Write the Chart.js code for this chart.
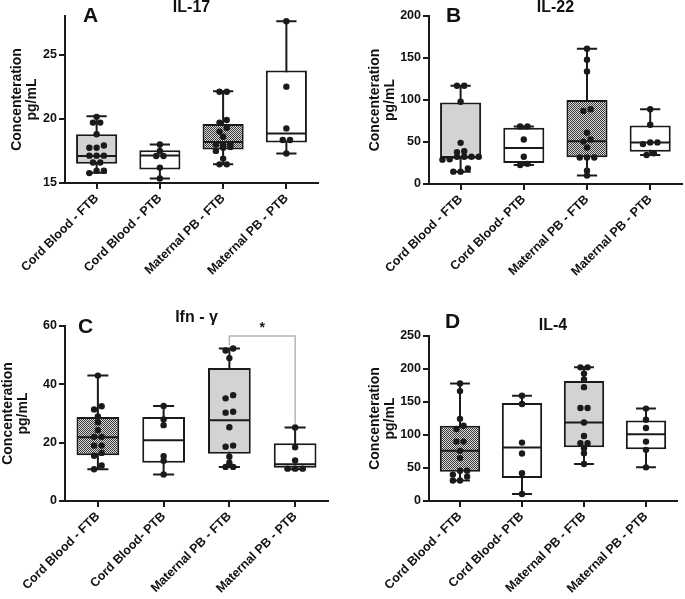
<!DOCTYPE html>
<html><head><meta charset="utf-8">
<script src="https://cdn.jsdelivr.net/npm/chart.js@4.4.1/dist/chart.umd.min.js"></script>
<style>
html,body{margin:0;padding:0;background:#fff;}
body{width:685px;height:599px;position:relative;overflow:hidden;font-family:'Liberation Sans',Arial,sans-serif;}
canvas{position:absolute;}
.lab{position:absolute;font-weight:bold;font-size:21px;line-height:1;color:#111;z-index:2;}
</style></head><body>
<canvas id="cA" width="340" height="300" style="left:0;top:0"></canvas>
<canvas id="cB" width="345" height="300" style="left:340px;top:0"></canvas>
<canvas id="cC" width="340" height="299" style="left:0;top:300px"></canvas>
<canvas id="cD" width="345" height="299" style="left:340px;top:300px"></canvas>
<div class="lab" style="left:83px;top:4px">A</div>
<div class="lab" style="left:446px;top:4px">B</div>
<div class="lab" style="left:78px;top:315px">C</div>
<div class="lab" style="left:445px;top:310px">D</div>
<script>
// ---------------- data ----------------
const categoriesA   = ['Cord Blood - FTB','Cord Blood - PTB','Maternal PB - FTB','Maternal PB - PTB'];
const categoriesBCD = ['Cord Blood - FTB','Cord Blood- PTB','Maternal PB - FTB','Maternal PB - PTB'];
const yTitle = ['Concenteration','pg/mL'];

// IL-17
const il17_min = [15.8, 15.35, 16.45, 17.3];
const il17_q1  = [16.5, 16.05, 17.6, 18.15];
const il17_med = [17.1, 17.15, 18.2, 18.85];
const il17_q3  = [18.8, 17.55, 19.6, 23.75];
const il17_max = [20.2, 18.0, 22.15, 27.6];
const il17_pts = [
  [15.77,15.95,15.95,16.6,16.6,17.13,17.13,17.13,17.74,17.74,17.92,18.8,19.7,19.7,20.15],
  [15.35,16.2,17.1,17.1,17.5,18.0],
  [16.45,16.45,16.9,17.5,17.75,17.8,18.0,18.0,18.0,18.6,19.0,19.3,19.7,19.9,22.1,22.1],
  [17.3,18.35,18.35,19.25,22.5,27.6]
];
const il17_ticks = [15,20,25];
const il17_range = [15,28];

// IL-22
const il22_min = [14.7, 22.5, 10, 34.5];
const il22_q1  = [30, 25, 31.7, 38.5];
const il22_med = [32, 43, 51, 49.5];
const il22_q3  = [97, 67, 100, 69.5];
const il22_max = [117, 68.5, 161, 89];
const il22_pts = [
  [14.7,14.7,18.5,29,29.5,32.5,32.5,32.5,32.5,38,39,49,98,117,117],
  [22.5,24,32.5,53,68.5,68.5],
  [10,15.8,31.5,31.5,31.5,43.5,50.5,53,61,87,89,134,148,161],
  [34.5,36.5,47.5,49.5,49.5,70.5,89]
];
const il22_ticks = [0,50,100,150,200];
const il22_range = [0,200];

// Ifn-gamma
const ifng_min = [10.9, 9.1, 11.7, 10.9];
const ifng_q1  = [15.7, 13.1, 16.2, 11.4];
const ifng_med = [21.9, 20.8, 27.7, 12.6];
const ifng_q3  = [28.8, 28.8, 45.6, 19.8];
const ifng_max = [43, 32.6, 52.3, 25.2];
const ifng_pts = [
  [10.9,12.2,15.5,16.5,19,19,22,22,24.3,27,29,31.4,32.5,43],
  [9.1,13.8,15.4,26,28,32.6],
  [11.7,11.7,13.1,15.2,18.6,19,25.3,30.3,30.6,35.2,36.3,49,51.6,52.3],
  [11.1,11.1,11.1,13.9,18.4,25.2]
];
const ifng_ticks = [0,20,40,60];
const ifng_range = [0,60];
const ifng_bracket = [[2,53.3],[2,56.6],[3,56.6],[3,26.5]];
const ifng_star = [2.5,59.2];

// IL-4
const il4_min = [31, 10.5, 56, 51];
const il4_q1  = [44.5, 35, 81.5, 78.5];
const il4_med = [76, 81, 119, 101];
const il4_q3  = [114, 148.5, 182, 122];
const il4_max = [178, 159.5, 202.5, 140];
const il4_pts = [
  [31,31,37,40,46,46,65,76,90,90,109,114,124.5,166.5,178],
  [10.5,42,72,88.5,147,159.5],
  [56,72.5,80,87.5,87.5,98.5,119,141,141,172.5,184,193,202.5,202.5],
  [51,77.5,90,110.5,123,140]
];
const il4_ticks = [0,50,100,150,200,250];
const il4_range = [0,250];

// ---------------- styling ----------------
Chart.defaults.font.family = "'Liberation Sans', Arial, sans-serif";
Chart.defaults.color = '#111';
const INK = '#1a1a1a';
const GREY = '#d3d3d3', WHITE = '#ffffff';
function checkerPattern(){
  const c = document.createElement('canvas'); c.width = 2; c.height = 2;
  const g = c.getContext('2d');
  g.fillStyle = '#dadada'; g.fillRect(0,0,2,2);
  g.fillStyle = '#3a3a3a'; g.fillRect(0,0,1,1); g.fillRect(1,1,1,1);
  return g.createPattern(c,'repeat');
}
const PAT = checkerPattern();

// spread points that sit at (nearly) the same height side by side
function spread(vals, idx, thr, step){
  const s = [...vals].sort((a,b)=>a-b); const out = []; let i = 0;
  while (i < s.length){
    let j = i;
    while (j+1 < s.length && s[j+1]-s[i] <= thr) j++;
    const n = j-i+1;
    for (let k=0;k<n;k++) out.push({x: idx + (k-(n-1)/2)*step, y: s[i+k]});
    i = j+1;
  }
  return out;
}

const boxExtras = {
  id:'boxExtras',
  beforeDatasetsDraw(chart, args, o){
    const {ctx, scales:{x,y}} = chart;
    const unit = x.getPixelForValue(1) - x.getPixelForValue(0);
    ctx.save(); ctx.strokeStyle = INK; ctx.lineWidth = 2;
    o.lo.forEach((lo,i)=>{
      const cx = x.getPixelForValue(i), yl = y.getPixelForValue(lo), yh = y.getPixelForValue(o.hi[i]);
      const cw = unit*o.cap;
      ctx.beginPath();
      ctx.moveTo(cx,yl); ctx.lineTo(cx,yh);
      ctx.moveTo(cx-cw,yl); ctx.lineTo(cx+cw,yl);
      ctx.moveTo(cx-cw,yh); ctx.lineTo(cx+cw,yh);
      ctx.stroke();
    });
    ctx.restore();
  },
  afterDatasetDraw(chart, args, o){
    if (args.meta.type !== 'bar') return;
    const {ctx, scales:{y}} = chart;
    ctx.save(); ctx.strokeStyle = INK; ctx.lineWidth = 2;
    args.meta.data.forEach((el,i)=>{
      const py = y.getPixelForValue(o.med[i]);
      ctx.beginPath(); ctx.moveTo(el.x - el.width/2 + 1, py); ctx.lineTo(el.x + el.width/2 - 1, py); ctx.stroke();
    });
    ctx.restore();
  },
  afterDatasetsDraw(chart, args, o){
    if (!o.star) return;
    const {ctx, scales:{x,y}} = chart;
    ctx.save(); ctx.fillStyle = INK; ctx.font = "bold 14px 'Liberation Sans', Arial, sans-serif";
    ctx.textAlign = 'center'; ctx.textBaseline = 'middle';
    ctx.fillText('*', x.getPixelForValue(o.star[0]), y.getPixelForValue(o.star[1]));
    ctx.restore();
  }
};

function makePanel(id, p){
  const cv = document.getElementById(id);
  const W = cv.width, H = cv.height;
  const thrVal = (p.range[1]-p.range[0]) * 4 / (p.bottom - p.top);
  const pts = [];
  p.pts.forEach((g,i)=>pts.push(...spread(g, i, thrVal, 0.115)));
  const datasets = [
    {type:'line', showLine:false, data: pts, pointRadius:3.2, pointHoverRadius:3.2,
     pointBackgroundColor: INK, pointBorderWidth:0, order:0},
    {type:'bar', data: p.cats.map((c,i)=>({x:i, y:[p.q1[i], p.q3[i]]})),
     backgroundColor: p.fills, borderColor: INK, borderWidth: 2, borderSkipped: false,
     barPercentage: 0.65, categoryPercentage: 1, order: 1}
  ];
  if (p.bracket) datasets.push({type:'line', data: p.bracket.map(([a,b])=>({x:a,y:b})),
     borderColor:'#b4b4b4', borderWidth:1.5, pointRadius:0, fill:false, tension:0, order:2});
  const axisGrid = {display:true, drawOnChartArea:false, drawTicks:true, tickLength:6, lineWidth:2, color:INK, offset:false};
  const axisBorder = {display:true, color:INK, width:2};
  return new Chart(cv, {
    type:'bar',
    data:{datasets},
    plugins:[boxExtras],
    options:{
      responsive:false, animation:false, events:[],
      layout:{padding:{left:0, right: W - p.right, top:0, bottom:0}},
      plugins:{
        legend:{display:false}, tooltip:{enabled:false},
        title:{display:true, text:p.title, fullSize:false, align:'center',
               font:{size:16, weight:'bold', lineHeight:1}, color:'#111', padding:p.titlePad},
        boxExtras:{lo:p.lo, hi:p.hi, med:p.med, cap:0.16, star:p.star || null}
      },
      scales:{
        x:{type:'linear', min:-0.5, max:3.5, offset:false,
           afterBuildTicks: s => { s.ticks = p.cats.map((c,i)=>({value:i})); },
           ticks:{callback: v => p.cats[v], autoSkip:false, maxRotation:45, minRotation:45,
                  font:{size:12.5, weight:'bold'}, color:'#111', padding:2},
           grid:axisGrid, border:axisBorder,
           afterFit: s => { s.height = H - p.bottom; }},
        y:{type:'linear', min:p.range[0], max:p.range[1],
           afterBuildTicks: s => { s.ticks = p.ticks.map(v=>({value:v})); },
           ticks:{font:{size:12.5, weight:'bold'}, color:'#111', padding:2},
           grid:axisGrid, border:axisBorder,
           title:{display:true, text:yTitle, font:{size:14, weight:'bold', lineHeight:1.1}, color:'#111',
                  padding:{top:p.yTitlePad, bottom:0}},
           afterFit: s => { s.width = p.left; }}
      }
    }
  });
}

makePanel('cA', {cats:categoriesA, title:'IL-17', lo:il17_min, q1:il17_q1, med:il17_med, q3:il17_q3, hi:il17_max,
  pts:il17_pts, ticks:il17_ticks, range:il17_range, fills:[GREY, WHITE, PAT, WHITE],
  left:65, right:318, top:16, bottom:183, titlePad:{top:0,bottom:0}, yTitlePad:9.3});
makePanel('cB', {cats:categoriesBCD, title:'IL-22', lo:il22_min, q1:il22_q1, med:il22_med, q3:il22_q3, hi:il22_max,
  pts:il22_pts, ticks:il22_ticks, range:il22_range, fills:[GREY, WHITE, PAT, WHITE],
  left:89, right:343, top:16, bottom:184, titlePad:{top:0,bottom:0}, yTitlePad:27.3});
makePanel('cC', {cats:categoriesBCD, title:'Ifn - γ', lo:ifng_min, q1:ifng_q1, med:ifng_med, q3:ifng_q3, hi:ifng_max,
  pts:ifng_pts, ticks:ifng_ticks, range:ifng_range, fills:[PAT, WHITE, GREY, WHITE],
  left:65, right:328, top:26, bottom:201, titlePad:{top:10,bottom:0}, yTitlePad:0.3,
  bracket:ifng_bracket, star:ifng_star});
makePanel('cD', {cats:categoriesBCD, title:'IL-4', lo:il4_min, q1:il4_q1, med:il4_med, q3:il4_q3, hi:il4_max,
  pts:il4_pts, ticks:il4_ticks, range:il4_range, fills:[PAT, WHITE, GREY, WHITE],
  left:89, right:337, top:36, bottom:201, titlePad:{top:18,bottom:2}, yTitlePad:27.3});
</script>
</body></html>
